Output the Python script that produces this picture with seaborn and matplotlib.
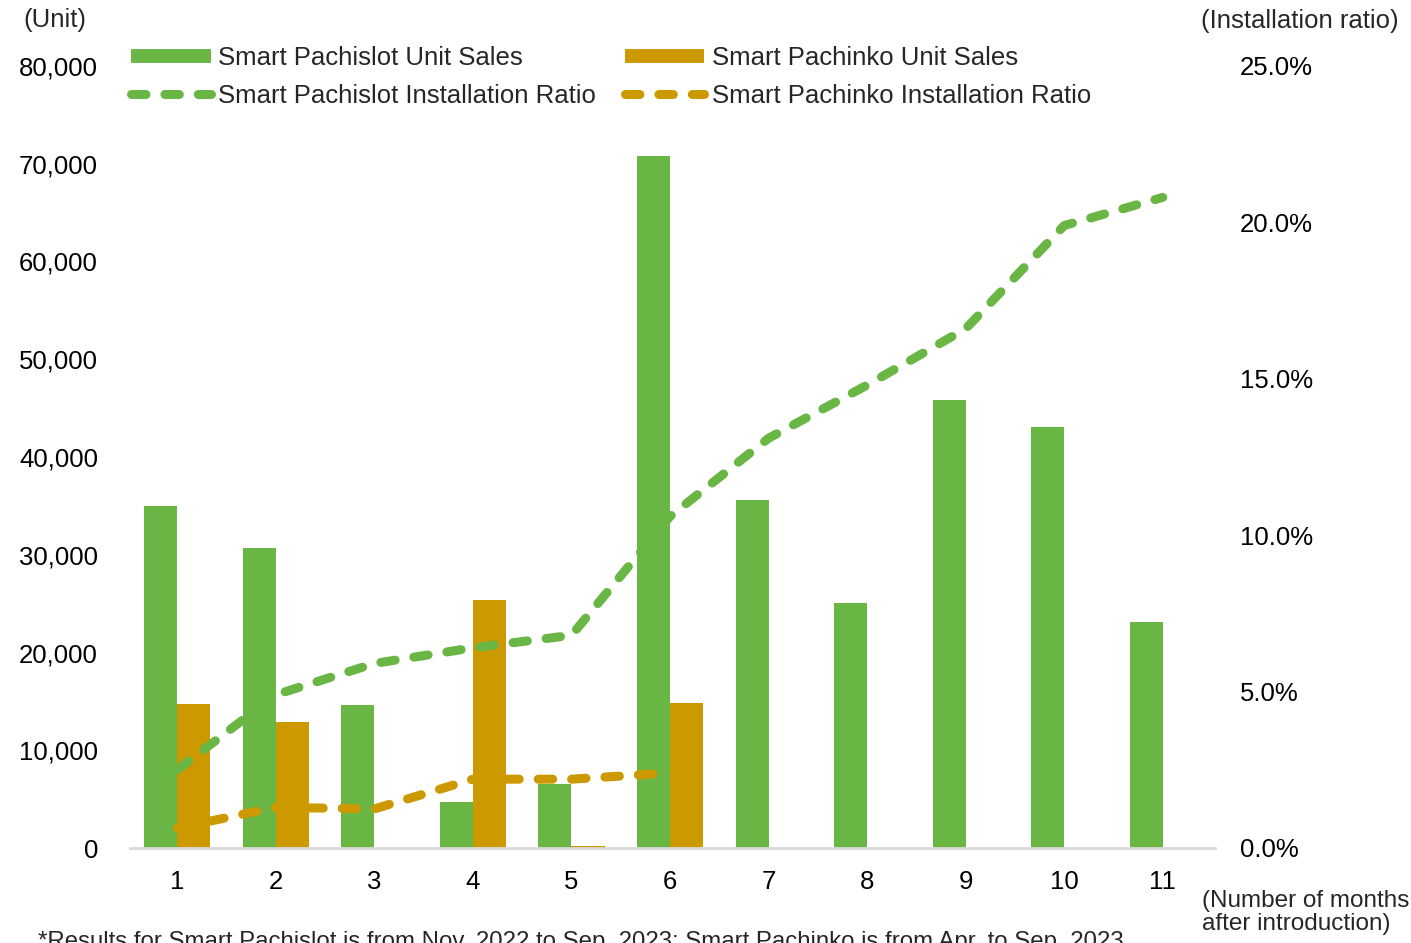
import numpy as np
import pandas as pd
import matplotlib
matplotlib.use('Agg')
import matplotlib.pyplot as plt
import seaborn as sns
from matplotlib.lines import Line2D
from matplotlib.ticker import FuncFormatter

# months after introduction
months = ['1', '2', '3', '4', '5', '6', '7', '8', '9', '10', '11']

# unit sales (units)
pachislot_sales = [35000, 30700, 14600, 4700, 6500, 70800, 35600, 25100, 45800, 43100, 23100]
pachinko_sales = [14700, 12900, 0, 25400, 200, 14800, np.nan, np.nan, np.nan, np.nan, np.nan]

# installation ratio
pachislot_ratio = [0.025, 0.049, 0.059, 0.064, 0.068, 0.106, 0.131, 0.148, 0.166, 0.199, 0.208]
pachinko_ratio = [0.0064, 0.013, 0.0125, 0.022, 0.022, 0.024]

GREEN = '#6AB645'
ORANGE = '#CC9A00'
FONT = 18.5

sns.set_theme(style='white')
plt.rcParams['font.family'] = ['Liberation Sans', 'DejaVu Sans']

df = pd.DataFrame({
    'month': months * 2,
    'sales': pachislot_sales + pachinko_sales,
    'series': ['Smart Pachislot Unit Sales'] * len(months) + ['Smart Pachinko Unit Sales'] * len(months),
})

fig = plt.figure(figsize=(14.11, 9.43), dpi=100)
ax = fig.add_axes([130 / 1411, 1 - 848 / 943, (1215 - 130) / 1411, (848 - 66) / 943])

sns.barplot(data=df, x='month', y='sales', hue='series', order=months,
            palette=[GREEN, ORANGE], width=0.67, saturation=1, linewidth=0,
            ax=ax, legend=False)

ax2 = ax.twinx()
pos = np.arange(len(months))
sns.lineplot(x=pos, y=pachislot_ratio, ax=ax2, color=GREEN, lw=6.5,
             dashes=False, dash_capstyle='round')
sns.lineplot(x=pos[:len(pachinko_ratio)], y=pachinko_ratio, ax=ax2, color=ORANGE, lw=6.5,
             dashes=False, dash_capstyle='round')
for ln in ax2.get_lines():
    ln.set_dashes((1.6, 2.1))

ax.set_ylim(0, 80000)
ax2.set_ylim(0, 0.25)
ax.set_xlim(-0.48, 10.53)
ax.set_yticks(np.arange(0, 80001, 10000))
ax2.set_yticks(np.arange(0, 0.2501, 0.05))
ax.yaxis.set_major_formatter(FuncFormatter(lambda v, p: f'{v:,.0f}'))
ax2.yaxis.set_major_formatter(FuncFormatter(lambda v, p: f'{v * 100:.1f}%'))
ax.set_xlabel('')
ax.set_ylabel('')
ax2.set_ylabel('')

for a in (ax, ax2):
    for s in a.spines.values():
        s.set_visible(False)
    a.grid(False)
ax.spines['bottom'].set_visible(True)
ax.spines['bottom'].set_color('#D9D9D9')
ax.spines['bottom'].set_linewidth(2)

ax.tick_params(axis='y', length=0, pad=23, labelsize=FONT, labelcolor='black')
ax.tick_params(axis='x', length=0, pad=16, labelsize=FONT, labelcolor='black')
ax2.tick_params(axis='y', length=0, pad=18, labelsize=FONT, labelcolor='black')

handles = [
    Line2D([], [], color=GREEN, lw=10, solid_capstyle='butt'),
    Line2D([], [], color=GREEN, lw=6.5, dashes=(1.6, 2.1), dash_capstyle='round'),
    Line2D([], [], color=ORANGE, lw=10, solid_capstyle='butt'),
    Line2D([], [], color=ORANGE, lw=6.5, dashes=(1.6, 2.1), dash_capstyle='round'),
]
labels = ['Smart Pachislot Unit Sales', 'Smart Pachislot Installation Ratio',
          'Smart Pachinko Unit Sales', 'Smart Pachinko Installation Ratio']
fig.legend(handles, labels, ncol=2, frameon=False, fontsize=FONT,
           loc='upper left', bbox_to_anchor=(108 / 1411, 1 - 23 / 943),
           handlelength=3.1, handletextpad=0.3, columnspacing=1.1, labelspacing=0.55)

fig.text(55 / 1411, 1 - 20 / 943, '(Unit)', fontsize=FONT, ha='center', va='center')
fig.text(1300 / 1411, 1 - 21 / 943, '(Installation ratio)', fontsize=FONT, ha='center', va='center')
fig.text(1202 / 1411, 1 - 890 / 943, '(Number of months\nafter introduction)', fontsize=17.5,
         ha='left', va='top', linespacing=1.05)
fig.text(38 / 1411, 1 - 931 / 943,
         '*Results for Smart Pachislot is from Nov. 2022 to Sep. 2023; Smart Pachinko is from Apr. to Sep. 2023',
         fontsize=17.3, ha='left', va='top')

fig.savefig('out.png', dpi=100)
